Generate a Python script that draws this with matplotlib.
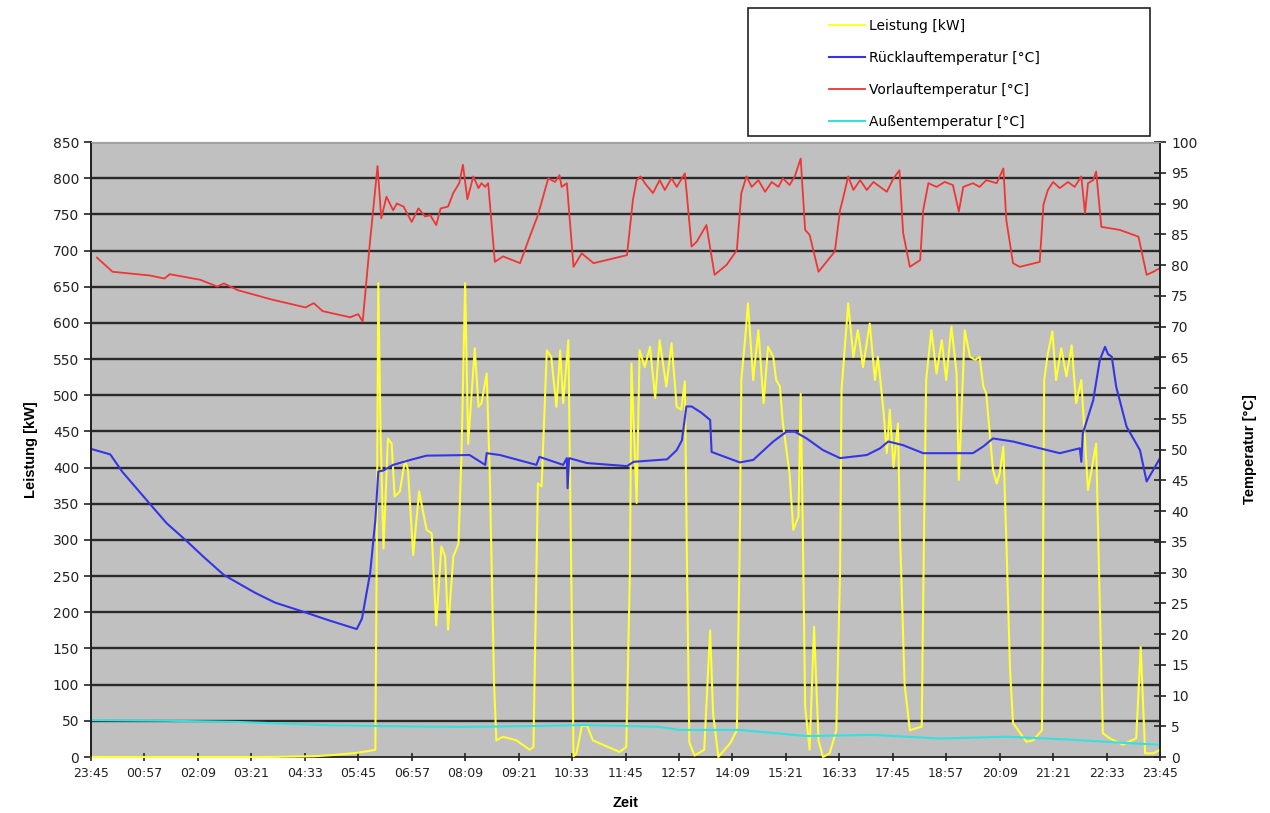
import matplotlib
matplotlib.use("Agg")
import matplotlib.pyplot as plt
from matplotlib.patches import Rectangle

plt.rcParams['font.family'] = ['DejaVu Sans']

# time axis: minutes after 23:45
tick_labels = ["23:45", "00:57", "02:09", "03:21", "04:33", "05:45", "06:57",
               "08:09", "09:21", "10:33", "11:45", "12:57", "14:09", "15:21",
               "16:33", "17:45", "18:57", "20:09", "21:21", "22:33", "23:45"]
tick_minutes = [i * 72 for i in range(len(tick_labels))]

# Leistung [kW] (left axis)
leistung_t = [0, 60, 120, 180, 240, 300, 330, 360, 378, 383, 385, 387, 390, 394,
              400, 405, 409, 416, 423, 427, 434, 442, 452, 459, 465, 472, 477,
              481, 488, 495, 499, 504, 508, 517, 522, 526, 533, 537, 543, 546,
              555, 573, 591, 596, 602, 607, 614, 620, 627, 632, 636, 643, 647,
              650, 654, 661, 668, 676, 712, 721, 726, 728, 735, 739, 746, 753,
              760, 766, 775, 782, 789, 795, 800, 803, 806, 813, 826, 834, 838,
              845, 861, 870, 874, 876, 881, 885, 892, 899, 906, 912, 919, 923,
              928, 932, 941, 946, 953, 956, 959, 962, 968, 974, 980, 986, 995,
              1004, 1009, 1011, 1020, 1027, 1033, 1040, 1049, 1056, 1060, 1067,
              1072, 1076, 1081, 1087, 1090, 1096, 1103, 1119, 1122, 1125, 1132,
              1139, 1146, 1152, 1159, 1166, 1169, 1177, 1184, 1191, 1197, 1202,
              1206, 1215, 1220, 1224, 1229, 1233, 1238, 1242, 1260, 1269, 1281,
              1284, 1289, 1295, 1300, 1307, 1314, 1321, 1327, 1334, 1343, 1350,
              1354, 1358, 1363, 1372, 1390, 1408, 1414, 1420, 1431, 1440]
leistung_kw = [0, 0, 0, 0, 0, 1, 3, 6, 9, 10, 300, 655, 450, 288,
               440, 433, 360, 367, 410, 397, 279, 367, 314, 309, 182, 291, 277,
               176, 277, 295, 415, 655, 433, 565, 484, 489, 530, 397, 100, 23,
               28, 23, 10, 14, 378, 374, 562, 553, 484, 562, 489, 576, 250,
               1, 5, 42, 44, 23, 7, 14, 258, 544, 351, 562, 539, 567,
               496, 576, 512, 572, 484, 480, 519, 250, 20, 2, 10, 175, 60,
               0, 19, 37, 300, 521, 576, 627, 521, 590, 489, 567, 553, 521,
               512, 461, 392, 314, 332, 502, 300, 70, 10, 180, 23, 0, 5,
               37, 254, 507, 627, 553, 590, 539, 599, 521, 553, 484,
               420, 480, 401, 461, 300, 100, 37, 42, 300, 521, 590,
               530, 576, 521, 595, 530, 383, 590, 553, 549, 553, 512,
               502, 397, 378, 392, 429, 300, 120, 47, 21, 23, 37,
               521, 558, 588, 521, 565, 526, 569, 489, 521, 369, 410,
               433, 250, 33, 26, 17, 26, 152, 5, 5, 10]

# Ruecklauftemperatur [°C] (right axis)
ruecklauf_t = [0, 26, 42, 79, 102, 129, 152, 179, 221, 248, 289, 321, 358, 365,
               376, 383, 387, 394, 407, 430, 452, 510, 531, 533, 551, 600, 604,
               636, 641, 642, 644, 668, 722, 731, 776, 789, 796, 802, 809, 822,
               834, 836, 874, 892, 901, 919, 937, 948, 964, 986, 1009, 1045,
               1063, 1074, 1094, 1121, 1188, 1202, 1215, 1242, 1278, 1305, 1332,
               1334, 1336, 1350, 1359, 1366, 1370, 1375, 1381, 1395, 1413, 1422,
               1440]
ruecklauf_c = [50.1, 49.2, 46.4, 41.2, 38.0, 35.1, 32.5, 29.6, 26.7, 25.1, 23.5,
               22.2, 20.8, 22.5, 29.9, 38.5, 46.4, 46.6, 47.5, 48.3, 49.0, 49.1,
               47.5, 49.4, 49.1, 47.5, 48.8, 47.5, 48.6, 43.7, 48.6, 47.8, 47.3,
               48.0, 48.4, 49.9, 51.5, 57.0, 57.0, 56.0, 54.8, 49.6, 47.9, 48.3,
               49.3, 51.3, 52.9, 52.9, 51.8, 49.9, 48.6, 49.1, 50.2, 51.3, 50.7,
               49.4, 49.4, 50.5, 51.8, 51.3, 50.2, 49.4, 50.2, 48.0, 52.6, 58.0,
               64.6, 66.7, 65.5, 65.1, 60.2, 53.7, 49.9, 44.8, 48.6]

# Vorlauftemperatur [°C] (right axis)
vorlauf_t = [8, 29, 79, 99, 106, 147, 170, 179, 198, 243, 289, 300, 312, 349,
             360, 366, 376, 386, 391, 398, 407, 412, 421, 432, 441, 450, 457,
             465, 471, 481, 488, 496, 501, 507, 515, 522, 526, 531, 535, 544,
             555, 578, 591, 602, 609, 616, 625, 631, 634, 641, 650, 661, 677,
             722, 730, 735, 740, 748, 757, 766, 773, 782, 789, 800, 809, 816,
             829, 840, 856, 870, 876, 883, 890, 899, 908, 917, 926, 932, 941,
             948, 956, 962, 968, 980, 1002, 1009, 1013, 1020, 1027, 1036, 1045,
             1054, 1063, 1072, 1081, 1089, 1094, 1103, 1117, 1121, 1128, 1139,
             1150, 1161, 1169, 1175, 1188, 1197, 1206, 1220, 1229, 1233, 1242,
             1251, 1278, 1283, 1289, 1296, 1305, 1316, 1325, 1334, 1339, 1343,
             1350, 1354, 1361, 1386, 1411, 1422, 1431, 1440]
vorlauf_c = [81.2, 78.9, 78.3, 77.8, 78.5, 77.6, 76.5, 77.0, 75.9, 74.4, 73.1,
             73.8, 72.5, 71.5, 72.0, 70.8, 84.0, 96.1, 87.6, 91.1, 88.9, 90.0,
             89.5, 87.0, 89.2, 87.9, 88.1, 86.5, 89.2, 89.5, 91.7, 93.3, 96.3,
             90.7, 94.4, 92.5, 93.3, 92.7, 93.3, 80.5, 81.4, 80.3, 84.6, 88.1,
             91.1, 94.1, 93.5, 94.6, 92.7, 93.3, 79.7, 81.9, 80.3, 81.6, 90.6,
             93.8, 94.4, 93.0, 91.7, 93.8, 92.2, 94.1, 92.7, 94.9, 83.0, 83.8,
             86.5, 78.4, 80.0, 82.4, 91.7, 94.4, 92.7, 93.8, 91.9, 93.5, 92.7,
             94.1, 93.0, 94.4, 97.3, 85.7, 84.9, 78.9, 82.2, 88.9, 90.8, 94.4,
             92.2, 93.8, 92.2, 93.5, 92.7, 91.9, 94.1, 95.4, 85.2, 79.7, 80.8,
             88.9, 93.3, 92.7, 93.5, 93.0, 88.7, 92.7, 93.3, 92.7, 93.8, 93.3,
             95.7, 87.3, 80.3, 79.7, 80.5, 89.8, 92.2, 93.5, 92.5, 93.5, 92.7,
             94.4, 88.4, 93.3, 93.8, 95.2, 86.2, 85.7, 84.6, 78.4, 78.9, 79.5]

# Aussentemperatur [°C] (right axis)
aussen_t = [0, 100, 198, 312, 403, 497, 580, 668, 766, 793, 874, 901, 964,
            1053, 1144, 1233, 1323, 1390, 1440]
aussen_c = [6.0, 5.9, 5.7, 5.2, 5.0, 4.9, 5.0, 5.2, 4.9, 4.4, 4.4, 4.1, 3.4,
            3.6, 3.0, 3.3, 2.8, 2.3, 2.0]

fig = plt.figure(figsize=(12.7, 8.13), dpi=100)
ax = fig.add_axes([91 / 1270, 1 - 757 / 813, (1160 - 91) / 1270, (757 - 142) / 813])
ax.set_facecolor('#C0C0C0')
ax2 = ax.twinx()

for v in range(50, 851, 50):
    ax.axhline(v, color='#2a2a2a', lw=1.7, zorder=1)

l1, = ax.plot(leistung_t, leistung_kw, color='#FFFF33', lw=1.5, zorder=3,
              clip_on=False, label='Leistung [kW]')
l2, = ax2.plot(ruecklauf_t, ruecklauf_c, color='#3535E6', lw=1.5,
               label='Rücklauftemperatur [°C]')
l3, = ax2.plot(vorlauf_t, vorlauf_c, color='#F03535', lw=1.3,
               label='Vorlauftemperatur [°C]')
l4, = ax2.plot(aussen_t, aussen_c, color='#35E0E0', lw=1.5,
               label='Außentemperatur [°C]')

ax.set_xlim(0, 1440)
ax.set_ylim(0, 850)
ax2.set_ylim(0, 100)
ax.set_yticks(range(0, 851, 50))
ax2.set_yticks(range(0, 101, 5))
ax.set_xticks(tick_minutes)
ax.set_xticklabels(tick_labels)

ax.tick_params(axis='y', direction='out', length=5, labelsize=10,
               colors='#222222', width=1.2)
ax.tick_params(axis='x', direction='inout', length=6, labelsize=9,
               colors='#222222', width=1.2, pad=4)
ax2.tick_params(axis='y', direction='inout', length=8, labelsize=10,
                colors='#222222', width=1.2, pad=4)

for a in (ax, ax2):
    a.spines['left'].set_color('#222222')
    a.spines['right'].set_color('#222222')
    a.spines['bottom'].set_color('#222222')
    a.spines['top'].set_color('#A0A0A0')
    a.spines['left'].set_linewidth(1.3)
    a.spines['right'].set_linewidth(1.3)
    a.spines['bottom'].set_linewidth(1.3)
ax2.spines['bottom'].set_visible(False)

lab_font = dict(fontsize=10.5, fontweight='bold', family=['Liberation Sans', 'DejaVu Sans'])
ax.set_ylabel('Leistung [kW]', labelpad=11, **lab_font)
ax2.set_ylabel('Temperatur [°C]', labelpad=33, **lab_font)
ax.set_xlabel('Zeit', labelpad=12, **lab_font)

fig.patches.append(Rectangle((748 / 1270, 1 - 136 / 813), 402 / 1270, 128 / 813,
                             transform=fig.transFigure, fill=False,
                             edgecolor='#222222', lw=1.2))
fig.legend(handles=[l1, l2, l3, l4], loc='upper left',
           bbox_to_anchor=(829 / 1270, 1 - 19 / 813), frameon=False,
           fontsize=10, handlelength=2.6, handletextpad=0.25,
           labelspacing=1.3, borderpad=0, borderaxespad=0)

fig.savefig('out.png', dpi=100, facecolor='white')
